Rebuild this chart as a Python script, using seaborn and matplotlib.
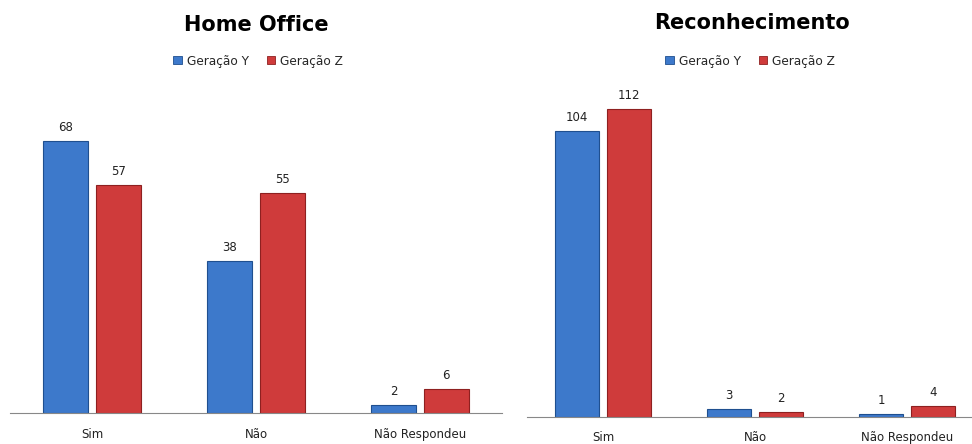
import matplotlib
matplotlib.use("Agg")
import matplotlib.pyplot as plt
import seaborn as sns
import pandas as pd

categories = ["Sim", "Não", "Não Respondeu"]
series = ["Geração Y", "Geração Z"]
home_y = [68, 38, 2]
home_z = [57, 55, 6]
rec_y = [104, 3, 1]
rec_z = [112, 2, 4]

sns.set_theme(style="white")
plt.rcParams["font.family"] = ["DejaVu Sans"]

colors = {"Geração Y": "#3D79CB", "Geração Z": "#CF3B3B"}
edges = {"Geração Y": "#1F4F8F", "Geração Z": "#8E2020"}


def make_df(y, z):
    rows = []
    for c, a, b in zip(categories, y, z):
        rows.append({"cat": c, "serie": series[0], "val": a})
        rows.append({"cat": c, "serie": series[1], "val": b})
    return pd.DataFrame(rows)


fig = plt.figure(figsize=(9.72, 4.44), dpi=100)
ax1 = fig.add_axes([10 / 972, 31 / 444, 492 / 972, 320 / 444])
ax2 = fig.add_axes([527 / 972, 27 / 444, 456 / 972, 330 / 444])


def draw(ax, df, ymax, width, pad, title, tx, ty, lx, ly):
    sns.barplot(data=df, x="cat", y="val", hue="serie", order=categories,
                hue_order=series, palette=colors, width=width, gap=0.14,
                ax=ax, legend=False, saturation=1)
    for cont, s in zip(ax.containers, series):
        for p in cont:
            p.set_edgecolor(edges[s])
            p.set_linewidth(0.8)
        ax.bar_label(cont, padding=5, fontsize=8.5, color="#222222")
    ax.set_xlim(-0.5, 2.5)
    ax.set_ylim(0, ymax)
    ax.set_xlabel("")
    ax.set_ylabel("")
    ax.set_yticks([])
    ax.tick_params(axis="x", length=0, pad=pad, labelsize=8.5, colors="#222222")
    for sp in ["top", "right", "left"]:
        ax.spines[sp].set_visible(False)
    ax.spines["bottom"].set_color("#888888")
    ax.spines["bottom"].set_linewidth(0.8)
    ax.patch.set_alpha(0)
    fig.text(tx / 972, 1 - ty / 444, title, ha="center", va="center",
             fontsize=15, fontweight="bold", color="black")
    handles = [plt.Rectangle((0, 0), 1, 1, facecolor=colors[s], edgecolor=edges[s], lw=0.6)
               for s in series]
    fig.legend(handles, series, loc="center", bbox_to_anchor=(lx / 972, 1 - ly / 444),
               ncol=2, frameon=False, fontsize=8.7, handlelength=0.7, handleheight=0.7,
               handletextpad=0.4, columnspacing=1.5)


draw(ax1, make_df(home_y, home_z), 80, 0.64, 11, "Home Office", 256, 25, 258, 61)
draw(ax2, make_df(rec_y, rec_z), 120, 0.68, 10, "Reconhecimento", 752, 23, 750, 61)

fig.savefig("out.png", dpi=100)
